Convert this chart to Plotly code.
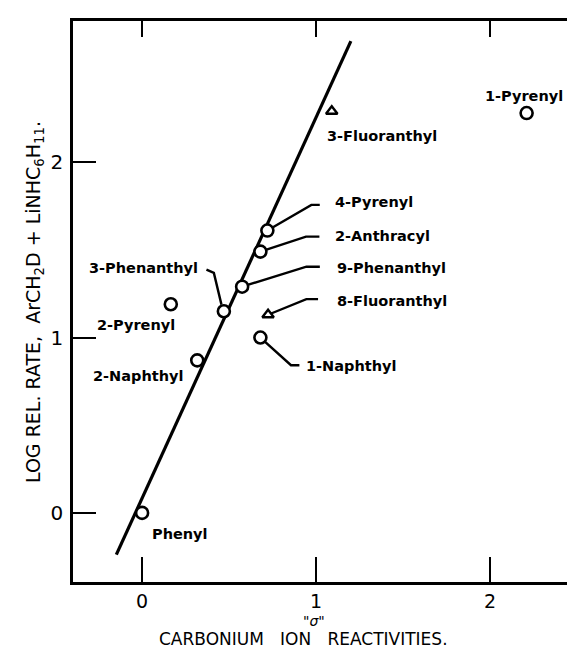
import plotly.graph_objects as go

# ---- data ----
circle_names = ["Phenyl", "2-Naphthyl", "2-Pyrenyl", "3-Phenanthyl", "9-Phenanthyl",
                "2-Anthracyl", "4-Pyrenyl", "1-Naphthyl", "1-Pyrenyl"]
circle_sigma = [0.0, 0.317, 0.165, 0.47, 0.575, 0.68, 0.72, 0.68, 2.21]
circle_lograte = [0.0, 0.87, 1.19, 1.15, 1.29, 1.49, 1.61, 1.00, 2.28]

tri_names = ["8-Fluoranthyl", "3-Fluoranthyl"]
tri_sigma = [0.724, 1.09]
tri_lograte = [1.13, 2.29]

line_sigma = [-0.148, 1.20]
line_lograte = [-0.238, 2.69]

x_ticks = [0, 1, 2]
x_ticktext = ["0", "1", "2"]
y_ticks = [0, 1, 2]
y_ticktext = ["0", "1", "2"]

X_RANGE = [-0.397, 2.534]
Y_RANGE = [-0.394, 2.805]

# ---- layout geometry ----
W, H = 575, 649
ML, MR, MT, MB = 65, 0, 13, 75
PW, PH = W - ML - MR, H - MT - MB
PX = PW / (X_RANGE[1] - X_RANGE[0])
PY = PH / (Y_RANGE[1] - Y_RANGE[0])

# label placement: (anchor, dx px, dy px (down +), leader offsets in px)
label_style = {
    "Phenyl": ("left", 8, 21, None),
    "2-Naphthyl": ("right", -12, 16, None),
    "2-Pyrenyl": ("right", 6, 21, None),
    "3-Phenanthyl": ("right", -24, -43, [(-17.4, -41.6), (-10, -38.3), (-2.4, -6.6)]),
    "9-Phenanthyl": ("left", 92.7, -18.3, [(0, 0), (64.3, -20), (77.7, -20)]),
    "2-Anthracyl": ("left", 72.3, -15.3, [(0, 0), (45.6, -15), (59, -15)]),
    "4-Pyrenyl": ("left", 65.7, -28.7, [(0, 0), (44, -25.7), (52.4, -25.7)]),
    "8-Fluoranthyl": ("left", 66.7, -14, [(0, 0), (38.3, -15.6), (50, -15.6)]),
    "1-Naphthyl": ("left", 44, 28.3, [(0, 0), (30.6, 27.7), (39, 27.7)]),
    "3-Fluoranthyl": ("left", -7, 24.3, None),
    "1-Pyrenyl": ("center", -2.5, -16.7, None),
}

FONT = "DejaVu Sans"

fig = go.Figure()

fig.add_trace(go.Scatter(x=line_sigma, y=line_lograte, mode="lines",
                         line=dict(color="black", width=3.2), showlegend=False,
                         hoverinfo="skip"))
fig.add_trace(go.Scatter(x=circle_sigma, y=circle_lograte, mode="markers",
                         marker=dict(symbol="circle", size=12, color="white",
                                     line=dict(color="black", width=2.6)),
                         showlegend=False))
fig.add_trace(go.Scatter(x=tri_sigma, y=tri_lograte, mode="markers",
                         marker=dict(symbol="triangle-up", size=10, color="white",
                                     line=dict(color="black", width=2.4)),
                         showlegend=False))
# invisible trace to activate top/right tick axes
fig.add_trace(go.Scatter(x=[X_RANGE[0]], y=[Y_RANGE[0]], xaxis="x2", yaxis="y2",
                         mode="markers", marker=dict(opacity=0), showlegend=False,
                         hoverinfo="skip"))

all_pts = {}
for n, xv, yv in zip(circle_names, circle_sigma, circle_lograte):
    all_pts[n] = (xv, yv)
for n, xv, yv in zip(tri_names, tri_sigma, tri_lograte):
    all_pts[n] = (xv, yv)

annotations = []
shapes = []
for name, (xv, yv) in all_pts.items():
    anchor, dx, dy, leader = label_style[name]
    annotations.append(dict(x=xv + dx / PX, y=yv - dy / PY, xref="x", yref="y",
                            text=name, showarrow=False, xanchor=anchor,
                            yanchor="middle",
                            font=dict(family=FONT, size=14.5, color="black",
                                      weight="bold")))
    if leader:
        pts = [(xv + ox / PX, yv - oy / PY) for ox, oy in leader]
        path = "M " + " L ".join(f"{px_},{py_}" for px_, py_ in pts)
        shapes.append(dict(type="path", path=path, xref="x", yref="y",
                           line=dict(color="black", width=2.4), layer="below"))

# axis titles
annotations.append(dict(x=(26 - ML) / PW, y=(H - MB - 294) / PH, xref="paper", yref="paper",
                        text="LOG REL. RATE,  ArCH<sub>2</sub>D + LiNHC<sub>6</sub>H<sub>11</sub>.",
                        textangle=-90, showarrow=False, xanchor="center", yanchor="middle",
                        font=dict(family=FONT, size=19, color="black")))
annotations.append(dict(x=(306 - ML) / PW, y=-(613 - (H - MB)) / PH, xref="paper", yref="paper",
                        text="\"<i>σ</i>\"", showarrow=False, xanchor="center", yanchor="middle",
                        font=dict(family=FONT, size=14, color="black")))
annotations.append(dict(x=(295 - ML) / PW, y=-(643 - (H - MB)) / PH, xref="paper", yref="paper",
                        text="CARBONIUM\u00a0\u00a0\u00a0ION\u00a0\u00a0\u00a0REACTIVITIES.",
                        showarrow=False, xanchor="center", yanchor="bottom",
                        font=dict(family=FONT, size=17, color="black")))

axis_common = dict(showgrid=False, zeroline=False, ticks="inside", tickcolor="black",
                   tickwidth=2.2)

fig.update_layout(
    width=W, height=H,
    margin=dict(l=ML, r=MR, t=MT, b=MB, pad=0),
    paper_bgcolor="white", plot_bgcolor="white",
    showlegend=False,
    xaxis=dict(range=X_RANGE, tickvals=x_ticks, ticktext=x_ticktext, ticklen=25,
               showline=True, linecolor="black", linewidth=2.6, mirror=True,
               tickfont=dict(family=FONT, size=19, color="black"), ticklabelstandoff=0,
               **axis_common),
    yaxis=dict(range=Y_RANGE, tickvals=y_ticks, ticktext=y_ticktext, ticklen=23,
               showline=True, linecolor="black", linewidth=2.6, mirror=False,
               tickfont=dict(family=FONT, size=20, color="black"), ticklabelstandoff=3,
               **axis_common),
    xaxis2=dict(range=X_RANGE, overlaying="x", side="top", tickvals=x_ticks, ticklen=16,
                showticklabels=False, showline=False, **axis_common),
    yaxis2=dict(range=Y_RANGE, overlaying="y", side="right", tickvals=y_ticks, ticklen=9,
                showticklabels=False, showline=False, **axis_common),
    annotations=annotations,
    shapes=shapes,
)

fig.write_html("out.html")
